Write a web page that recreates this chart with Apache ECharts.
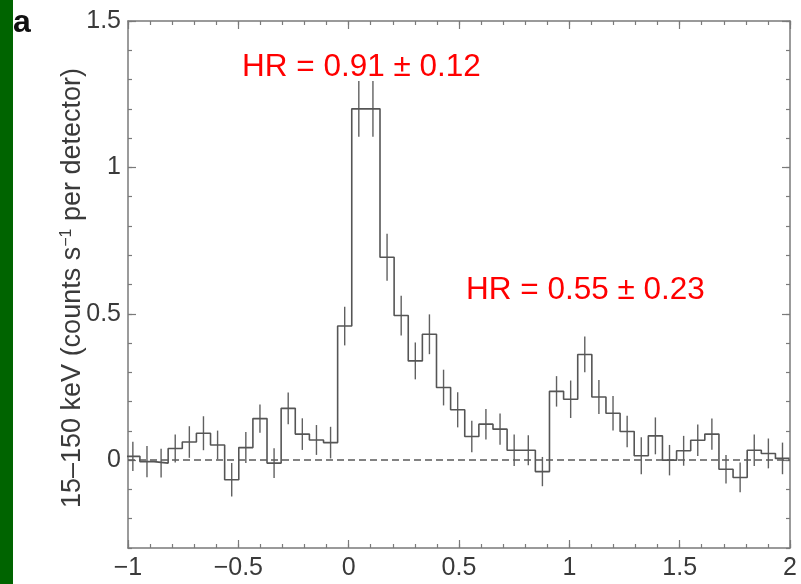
<!DOCTYPE html>
<html>
<head>
<meta charset="utf-8">
<script src="https://cdn.jsdelivr.net/npm/echarts@6/dist/echarts.min.js"></script>
<style>
html,body{margin:0;padding:0;background:#fff;}
#chart{width:801px;height:584px;}
</style>
</head>
<body>
<div id="chart"></div>
<script>
// ---- data ----
var binCenters = [-0.978,-0.914,-0.850,-0.786,-0.722,-0.658,-0.594,-0.530,-0.466,-0.402,-0.338,-0.274,-0.210,-0.146,-0.082,
  -0.018,0.046,0.110,
  0.174,0.238,0.302,0.366,0.430,0.494,0.558,0.622,0.686,0.750,0.814,0.878,
  0.942,1.006,1.070,1.134,1.198,1.262,1.326,1.390,1.454,1.518,1.582,1.646,1.710,1.774,1.838,1.902,1.966];
var binWidth = 0.064;
var rates = [0.013,-0.005,-0.010,0.040,0.062,0.092,0.052,-0.067,0.043,0.142,-0.010,0.177,0.089,0.069,0.060,
  0.458,1.200,1.200,
  0.693,0.494,0.339,0.430,0.248,0.172,0.081,0.123,0.106,0.034,0.034,-0.039,
  0.235,0.208,0.361,0.216,0.160,0.098,0.015,0.083,0.000,0.032,0.068,0.089,-0.031,-0.059,0.034,0.023,0.006];
var errors = [0.050,0.053,0.049,0.048,0.054,0.058,0.049,0.057,0.053,0.048,0.051,0.054,0.054,0.051,0.054,
  0.066,0.095,0.095,
  0.080,0.068,0.063,0.068,0.061,0.060,0.054,0.052,0.053,0.054,0.051,0.050,
  0.052,0.064,0.061,0.058,0.059,0.054,0.063,0.063,0.052,0.051,0.054,0.053,0.049,0.051,0.054,0.051,0.054];
var xTickLabels = [-1,-0.5,0,0.5,1,1.5,2];
var yTickLabels = [0,0.5,1,1.5];
var xRange = [-1,2];
var yRange = [-0.3,1.5];
var annotations = [
  {text:'HR = 0.91 \u00b1 0.12'},
  {text:'HR = 0.55 \u00b1 0.23'}
];
var yAxisTitle = ['15\u2013150 keV (counts s', '\u22121', ' per detector)'];
var panelLabel = 'a';

// ---- build ----
var stepData = [];
for (var i = 0; i < binCenters.length; i++) {
  stepData.push([binCenters[i] - binWidth/2, rates[i]]);
}
stepData.push([binCenters[binCenters.length-1] + binWidth/2, rates[rates.length-1]]);
var errData = binCenters.map(function(c,i){ return [c, rates[i]-errors[i], rates[i]+errors[i]]; });

var AX = '#7a7a7a';
var LBL = '#3a3a3a';
var FONT = '"Liberation Sans", Arial, Helvetica, sans-serif';
function fmt(v){ return String(v).replace('-', '\u2212'); }
function near(v, list){ for (var k=0;k<list.length;k++){ if (Math.abs(v-list[k])<1e-6) return true; } return false; }

function xAx(pos, major, labels){
  return {
    type:'value', position:pos, min:xRange[0], max:xRange[1], interval: major ? 0.5 : 0.1,
    axisLine:{show: !major, onZero:false, lineStyle:{color:AX, width:1.5}},
    axisTick:{show:true, inside:true, length: major ? 8 : 4, lineStyle:{color:AX, width:1.2}},
    axisLabel:{show:labels, fontSize:25, fontFamily:FONT, color:LBL, margin:8,
      customValues: labels ? xTickLabels : undefined, formatter:function(v){ return near(v,xTickLabels)?fmt(v):''; }},
    splitLine:{show:false}
  };
}
function yAx(pos, major, labels){
  return {
    type:'value', position:pos, min:yRange[0], max:yRange[1], interval:0.1,
    axisLine:{show: !major, onZero:false, lineStyle:{color:AX, width:1.5}},
    axisTick:{show:true, inside:true, length: major ? 8 : 4, lineStyle:{color:AX, width:1.2},
      customValues: major ? yTickLabels : undefined},
    axisLabel:{show:labels, fontSize:25, fontFamily:FONT, color:LBL, margin:7,
      customValues: labels ? yTickLabels : undefined, formatter:function(v){ return near(v,yTickLabels)?fmt(v):''; }},
    splitLine:{show:false}
  };
}

var chart = echarts.init(document.getElementById('chart'), null, {renderer:'canvas'});
chart.setOption({
  backgroundColor:'#ffffff',
  animation:false,
  grid:{left:128, right:11, top:21, bottom:36, containLabel:false},
  xAxis:[xAx('bottom',false,true), xAx('bottom',true,false), xAx('top',false,false), xAx('top',true,false)],
  yAxis:[yAx('left',false,true), yAx('left',true,false), yAx('right',false,false), yAx('right',true,false)],
  series:[
    {
      type:'line', xAxisIndex:0, yAxisIndex:0, data:stepData, step:'end', showSymbol:false, clip:true,
      lineStyle:{color:'#555', width:1.6}, silent:true,
      markLine:{silent:true, symbol:'none', label:{show:false},
        lineStyle:{color:'#5a5a5a', width:1.7, type:[7,4]}, data:[{yAxis:0}]}
    },
    {
      type:'custom', xAxisIndex:0, yAxisIndex:0, data:errData, clip:true, silent:true,
      renderItem:function(params, api){
        var p1 = api.coord([api.value(0), api.value(1)]);
        var p2 = api.coord([api.value(0), api.value(2)]);
        return {type:'line', shape:{x1:p1[0], y1:p1[1], x2:p2[0], y2:p2[1]},
          style:{stroke:'#606060', lineWidth:1.4}};
      }
    }
  ],
  graphic:[
    {type:'rect', left:0, top:0, shape:{width:13, height:584}, style:{fill:'#006400'}},
    {type:'text', x:13, y:39, style:{text:panelLabel, font:'bold 32px '+FONT, fill:'#111', textVerticalAlign:'bottom'}},
    {type:'text', x:242, y:67, style:{text:annotations[0].text, font:'31.5px '+FONT, fill:'#ff0000', textVerticalAlign:'middle'}},
    {type:'text', x:466, y:290, style:{text:annotations[1].text, font:'31.5px '+FONT, fill:'#ff0000', textVerticalAlign:'middle'}},
    {type:'text', x:73, y:288, rotation:Math.PI/2, style:{
      text:'{a|'+yAxisTitle[0]+'}{s|'+yAxisTitle[1]+'}{a|'+yAxisTitle[2]+'}',
      align:'center', verticalAlign:'middle', fill:LBL,
      rich:{a:{fontSize:27, fontFamily:FONT, fill:LBL, lineHeight:29},
            s:{fontSize:16, fontFamily:FONT, fill:LBL, verticalAlign:'top', lineHeight:29}}
    }}
  ]
});
</script>
</body>
</html>
